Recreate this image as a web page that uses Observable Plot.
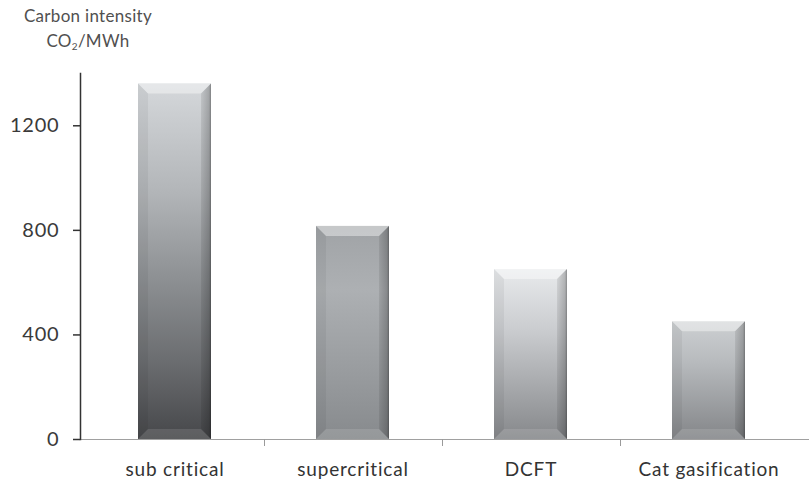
<!DOCTYPE html>
<html>
<head>
<meta charset="utf-8">
<script src="https://cdn.jsdelivr.net/npm/d3@7"></script>
<script src="https://cdn.jsdelivr.net/npm/@observablehq/plot@0.6"></script>
<style>
  body { margin: 0; background: #fff; }
  #wrap { position: relative; width: 809px; height: 481px; }
  #title {
    position: absolute; left: 0; top: 3px; width: 176px;
    text-align: center; font-family: Lato, sans-serif; font-size: 17px;
    color: #505050; line-height: 25px; letter-spacing: 0.3px;
  }
  #title sub { font-size: 10px; line-height: 0; vertical-align: -3px; }
</style>
</head>
<body>
<div id="wrap">
  <div id="title">Carbon intensity<br>CO<sub>2</sub>/MWh</div>
</div>
<script>
// Carbon intensity by coal power technology
const technologies = ["sub critical", "supercritical", "DCFT", "Cat gasification"];
const intensity = [1360, 815, 650, 450];
const yTicks = [0, 400, 800, 1200];

// Vertical face shading of each bar, top to bottom
const faceStops = [
  [[0, "#d5d8db"], [0.3, "#b3b6b9"], [0.55, "#8d9093"], [0.8, "#686a6d"], [1, "#46474a"]],
  [[0, "#a0a3a6"], [0.3, "#adb0b3"], [0.7, "#989b9e"], [1, "#878a8d"]],
  [[0, "#e8eaec"], [0.35, "#cbcdd0"], [1, "#86888b"]],
  [[0, "#cdd0d2"], [0.35, "#b7babd"], [1, "#848689"]]
];
const bevel = 10;

const data = technologies.map((tech, i) => ({tech, value: intensity[i], shade: i}));

// Bars with a bevelled, shaded face, plus the category separator ticks
function bevelledBars(index, scales, values, dimensions, context, next) {
  const g = next(index, scales, values, dimensions, context);
  const sel = d3.select(g);
  const defs = sel.insert("defs", ":first-child");

  const right = defs.append("linearGradient").attr("id", "bev-right").attr("x1", 0).attr("x2", 1);
  right.append("stop").attr("offset", 0).attr("stop-color", "#000").attr("stop-opacity", 0.08);
  right.append("stop").attr("offset", 0.8).attr("stop-color", "#000").attr("stop-opacity", 0.22);
  right.append("stop").attr("offset", 1).attr("stop-color", "#000").attr("stop-opacity", 0.4);

  const rects = Array.from(g.querySelectorAll("rect"));
  const boxes = [];
  rects.forEach((r, k) => {
    const d = data[index[k]];
    const id = "face-" + d.shade;
    const grad = defs.append("linearGradient").attr("id", id)
      .attr("x1", 0).attr("x2", 0).attr("y1", 0).attr("y2", 1);
    faceStops[d.shade].forEach(([o, c]) => grad.append("stop").attr("offset", o).attr("stop-color", c));
    r.setAttribute("fill", `url(#${id})`);

    const x = +r.getAttribute("x"), y = +r.getAttribute("y");
    const w = +r.getAttribute("width"), h = +r.getAttribute("height");
    boxes.push({x, y, w, h});
    const b = bevel;
    const poly = (pts, fill, op) => sel.append("polygon")
      .attr("points", pts.map(p => p.join(",")).join(" "))
      .attr("fill", fill).attr("fill-opacity", op);
    // top bevel
    poly([[x, y], [x + w, y], [x + w - b, y + b], [x + b, y + b]], "#fff", 0.4);
    // left bevel
    poly([[x, y], [x + b, y + b], [x + b, y + h - b], [x, y + h]], "#000", 0.05);
    // right bevel
    poly([[x + w, y], [x + w, y + h], [x + w - b, y + h - b], [x + w - b, y + b]], "url(#bev-right)", 1);
    // bottom bevel
    poly([[x, y + h], [x + b, y + h - b], [x + w - b, y + h - b], [x + w, y + h]], "#fff", 0.12);
  });

  boxes.sort((a, c) => a.x - c.x);
  for (let k = 0; k < boxes.length - 1; k++) {
    const a = boxes[k], c = boxes[k + 1];
    const mx = Math.round((a.x + a.w + c.x) / 2) + 0.5;
    const y0 = a.y + a.h;
    sel.append("line")
      .attr("x1", mx).attr("x2", mx).attr("y1", y0).attr("y2", y0 + 7)
      .attr("stroke", "#9a9a9a").attr("stroke-width", 1);
  }
  return g;
}

const chart = Plot.plot({
  width: 809,
  height: 481,
  marginTop: 73,
  marginBottom: 42,
  marginLeft: 80,
  marginRight: 0,
  style: {fontFamily: "Lato, sans-serif", fontSize: "19px", color: "#3a3a3a", background: "#fff", letterSpacing: "0.8px"},
  x: {domain: technologies, range: [84, 798], paddingInner: 0.59, paddingOuter: 0.295, label: null},
  y: {domain: [0, 1400], label: null},
  marks: [
    Plot.ruleY([0], {stroke: "#a0a0a0", strokeWidth: 1.2}),
    Plot.barY(data, {x: "tech", y: "value", fill: "#999", render: bevelledBars}),
    Plot.frame({anchor: "left", stroke: "#333", strokeWidth: 1.5}),
    Plot.axisY({ticks: yTicks, tickFormat: d => String(d), tickSize: 7, tickPadding: 14, fontSize: 20, stroke: "#333", strokeWidth: 1.5, fill: "#3a3a3a", style: {letterSpacing: "1.6px"}}),
    Plot.axisX({tickSize: 0, tickPadding: 23, fill: "#333"})
  ]
});

document.getElementById("wrap").appendChild(chart);
</script>
</body>
</html>
